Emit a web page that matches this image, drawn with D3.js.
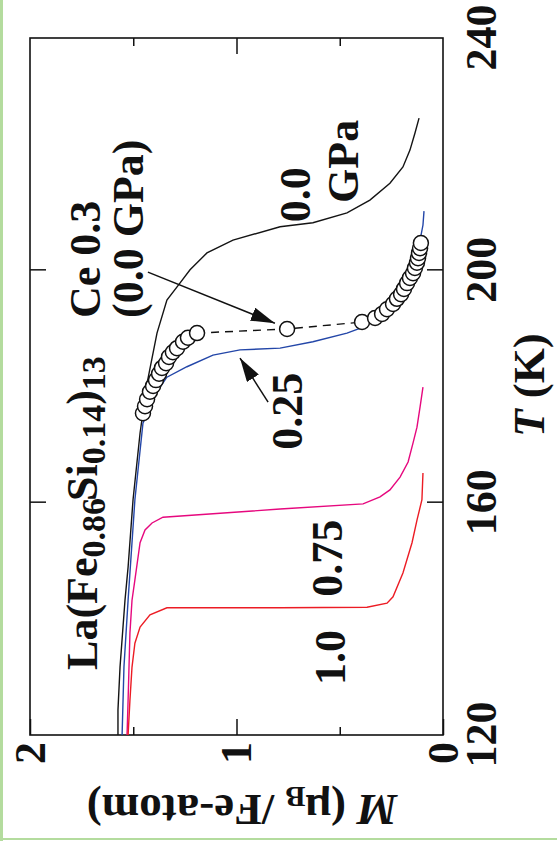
<!DOCTYPE html>
<html lang="en">
<head>
<meta charset="UTF-8">
<title>La(Fe0.86Si0.14)13 M-T</title>
<script src="https://cdn.jsdelivr.net/npm/d3@7/dist/d3.min.js"></script>
<style>
    body { margin: 0; background: #fff; }
    svg text {
        font-family: "Liberation Serif", "Times New Roman", serif;
        font-weight: bold;
        fill: #111;
    }
    .curve { fill: none; stroke-width: 1.4; }
</style>
</head>
<body>
<svg width="557" height="841"></svg>
<script>
    // tick values
    var tTicks = [120, 160, 200, 240],
        tInner = [160, 200],
        mTicks = [0, 1, 2],
        mMinor = [0.5, 1.5];

    // [T (K), M (muB/Fe)]
    var p000 = [[120.0,1.574],[124.3,1.574],[131.7,1.564],[143.2,1.540],[148.9,1.525],[160.5,1.501],
                [172.0,1.467],[180.6,1.433],[189.2,1.385],[194.9,1.337],[197.8,1.274],[200.1,1.225],
                [203.0,1.143],[205.2,1.017],[207.5,0.789],[208.2,0.630],[209.9,0.465],[212.1,0.354],
                [215.0,0.257],[217.8,0.194],[220.7,0.160],[223.6,0.136],[226.2,0.116]];
    var p025 = [[120.0,1.554],[131.7,1.545],[143.2,1.525],[160.5,1.492],[173.7,1.453],[179.4,1.380],
                [181.6,1.337],[183.4,1.240],[185.4,1.114],[186.3,0.983],[186.6,0.789],[187.7,0.630],
                [189.2,0.465],[190.2,0.387],[193.2,0.281],[196.6,0.208],[200.9,0.150],[205.2,0.111],
                [207.8,0.097],[210.2,0.092]];
    var p075 = [[120.0,1.530],[126.0,1.525],[137.6,1.516],[143.2,1.506],[146.7,1.492],[153.1,1.467],
                [155.3,1.443],[156.5,1.409],[157.5,1.356],[158.9,0.789],[159.8,0.387],[161.0,0.305],
                [162.2,0.257],[164.4,0.208],[167.0,0.169],[170.3,0.145],[173.0,0.126],[176.5,0.111],
                [179.9,0.097]];
    var p100 = [[120.0,1.525],[126.0,1.516],[131.7,1.506],[135.8,1.492],[138.6,1.467],[140.7,1.419],
                [141.9,1.337],[141.9,0.789],[142.0,0.368],[142.7,0.271],[143.8,0.242],[147.9,0.194],
                [153.1,0.150],[157.0,0.126],[160.5,0.102],[165.1,0.097]];
    // Ce 0.3 sample at 0.0 GPa (open circles)
    var ce03 = [[175.4,1.453],[176.6,1.443],[177.8,1.433],[179.1,1.419],[180.1,1.404],[181.1,1.390],
                [182.2,1.375],[183.2,1.361],[184.0,1.341],[185.1,1.327],[185.9,1.308],[186.6,1.288],
                [187.7,1.259],[188.4,1.235],[189.2,1.191],[189.9,0.755],[191.1,0.392],[191.8,0.329],
                [192.5,0.295],[193.3,0.271],[194.2,0.242],[195.1,0.223],[195.9,0.203],[196.8,0.189],
                [197.8,0.174],[198.7,0.160],[199.5,0.145],[200.4,0.136],[201.3,0.126],[202.1,0.121],
                [203.0,0.116],[203.8,0.111],[204.7,0.107]];

    var svg = d3.select('svg'),
        width = 697,
        height = 413,
        xScale = d3.scaleLinear().domain([120, 240]).range([0, width]),
        yScale = d3.scaleLinear().domain([0, 2]).range([height, 0]),
        line = d3.line()
            .x(function(d) { return xScale(d[0]); })
            .y(function(d) { return yScale(d[1]); });

    // page edges
    svg.append('rect').attr('x', 0).attr('y', 0).attr('width', 3).attr('height', 841).attr('fill', '#b4dc9e');
    svg.append('rect').attr('x', 0).attr('y', 838).attr('width', 557).attr('height', 2).attr('fill', '#b4dc9e');

    svg.append('defs').append('marker')
        .attr('id', 'arrow')
        .attr('viewBox', '0 0 24 14')
        .attr('refX', 24).attr('refY', 7)
        .attr('markerWidth', 24).attr('markerHeight', 14)
        .attr('markerUnits', 'userSpaceOnUse')
        .attr('orient', 'auto')
        .append('path')
        .attr('d', 'M0,0 L24,7 L0,14 Z')
        .attr('fill', '#111');

    // whole figure is turned a quarter to the left
    var chartG = svg.append('g')
        .attr('transform', 'translate(30,735) rotate(-90)');

    function styleAxis(g) {
        g.attr('font-size', 44);
        g.select('.domain').remove();
        g.selectAll('line').attr('stroke', '#111').attr('stroke-width', 1.5);
    }

    chartG.append('g')
        .attr('transform', 'translate(0,' + height + ')')
        .call(d3.axisBottom(xScale).tickValues(tTicks).tickSizeInner(0).tickSizeOuter(0).tickPadding(22))
        .call(styleAxis);
    chartG.append('g')
        .attr('transform', 'translate(0,' + height + ')')
        .call(d3.axisBottom(xScale).tickValues(tInner).tickSizeInner(-16).tickSizeOuter(0).tickFormat(''))
        .call(styleAxis);
    chartG.append('g')
        .call(d3.axisTop(xScale).tickValues(tInner).tickSizeInner(-16).tickSizeOuter(0).tickFormat(''))
        .call(styleAxis);

    chartG.append('g')
        .call(d3.axisLeft(yScale).tickValues(mTicks).tickFormat(d3.format('d'))
            .tickSizeInner(-16).tickSizeOuter(0).tickPadding(7))
        .call(styleAxis);
    chartG.append('g')
        .call(d3.axisLeft(yScale).tickValues(mMinor).tickSizeInner(-8).tickSizeOuter(0).tickFormat(''))
        .call(styleAxis);
    chartG.append('g')
        .attr('transform', 'translate(' + width + ',0)')
        .call(d3.axisRight(yScale).tickValues([1]).tickSizeInner(-16).tickSizeOuter(0).tickFormat(''))
        .call(styleAxis);
    chartG.append('g')
        .attr('transform', 'translate(' + width + ',0)')
        .call(d3.axisRight(yScale).tickValues(mMinor).tickSizeInner(-8).tickSizeOuter(0).tickFormat(''))
        .call(styleAxis);

    chartG.append('rect')
        .attr('width', width).attr('height', height)
        .attr('fill', 'none').attr('stroke', '#111').attr('stroke-width', 1.6);

    // axis titles
    var tTitle = chartG.append('text')
        .attr('x', 350).attr('y', 514)
        .attr('text-anchor', 'middle')
        .attr('font-size', 45);
    tTitle.append('tspan').attr('font-style', 'italic').text('T');
    tTitle.append('tspan').text(' (K)');

    var mTitle = chartG.append('text')
        .attr('transform', 'rotate(-90)')
        .attr('x', -212).attr('y', -60)
        .attr('text-anchor', 'middle')
        .attr('font-size', 45);
    mTitle.append('tspan').attr('font-style', 'italic').text('M');
    mTitle.append('tspan').text(' (\u03bc');
    mTitle.append('tspan').attr('font-size', 30).attr('dy', 8).text('B');
    mTitle.append('tspan').attr('dy', -8).text(' /Fe-atom)');

    // curves
    var series = [
        { data: p000, color: '#141414' },
        { data: p025, color: '#2346a8' },
        { data: p075, color: '#e6087e' },
        { data: p100, color: '#ec1c24' }
    ];
    chartG.selectAll('.curve')
        .data(series)
        .enter().append('path')
        .attr('class', 'curve')
        .attr('stroke', function(d) { return d.color; })
        .attr('d', function(d) { return line(d.data); });

    // dashed jump of the Ce sample
    chartG.append('path')
        .datum(ce03.slice(14, 17))
        .attr('d', line)
        .attr('fill', 'none')
        .attr('stroke', '#111')
        .attr('stroke-width', 1.4)
        .attr('stroke-dasharray', '8,6');

    chartG.selectAll('.pt')
        .data(ce03)
        .enter().append('circle')
        .attr('class', 'pt')
        .attr('cx', function(d) { return xScale(d[0]); })
        .attr('cy', function(d) { return yScale(d[1]); })
        .attr('r', 7.5)
        .attr('fill', '#fff')
        .attr('stroke', '#111')
        .attr('stroke-width', 1.5);

    // labels
    function label(t, m, txt) {
        return chartG.append('text')
            .attr('x', xScale(t)).attr('y', yScale(m))
            .attr('font-size', 44)
            .text(txt);
    }
    label(208.3, 0.644, '0.0');
    label(211.6, 0.412, 'GPa');
    label(191.8, 1.661, 'Ce 0.3');
    label(191.8, 1.453, '(0.0 GPa)');
    label(169.1, 0.683, '0.25');
    label(143.8, 0.489, '0.75');
    label(128.6, 0.475, '1.0');

    var formula = label(131.2, 1.676, 'La(Fe');
    formula.append('tspan').attr('font-size', 34).attr('dy', 8).text('0.86');
    formula.append('tspan').attr('dy', -8).attr('dx', -3).text('Si');
    formula.append('tspan').attr('font-size', 34).attr('dy', 8).text('0.14');
    formula.append('tspan').attr('dy', -8).text(')');
    formula.append('tspan').attr('font-size', 34).attr('dy', 8).text('13');

    // arrows
    var arrows = [
        [[199.7, 1.429], [190.9, 0.814]],
        [[177.3, 0.847], [184.9, 0.983]]
    ];
    chartG.selectAll('.arrow')
        .data(arrows)
        .enter().append('path')
        .attr('class', 'arrow')
        .attr('d', line)
        .attr('stroke', '#111')
        .attr('stroke-width', 1.5)
        .attr('fill', 'none')
        .attr('marker-end', 'url(#arrow)');
</script>
</body>
</html>
